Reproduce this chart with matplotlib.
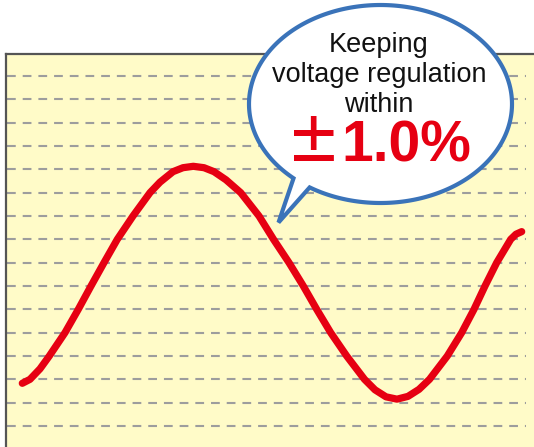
import matplotlib
matplotlib.use("Agg")
import matplotlib.pyplot as plt
import numpy as np
from matplotlib.path import Path
from matplotlib.patches import PathPatch

plt.rcParams['font.family'] = ['Liberation Sans', 'DejaVu Sans']
plt.rcParams['lines.scale_dashes'] = False

W, H = 534, 447

# voltage curve (time step, level on the dashed grid)
time = [16.3, 24, 34, 43.3, 59, 72.3, 85, 98, 111.3, 127, 144, 154, 167,
        177, 187.3, 198, 208, 220, 234.7, 253, 267.5, 283, 297.3, 310.7,
        324.7, 340.7, 358.5, 369, 380, 391, 402, 413, 423.5, 441.3, 455.7,
        468, 479, 490.7, 504.7, 510, 515.7]
level = [1.83, 2.0, 2.45, 3, 4, 5, 6, 7, 8, 9, 10, 10.45, 10.9, 11.07, 11.13,
         11.07, 10.9, 10.55, 10, 9, 8, 7, 6, 5, 4, 3, 2, 1.55, 1.25, 1.15, 1.27,
         1.57, 2, 3, 4, 5, 6, 7, 8, 8.22, 8.33]
grid_levels = list(range(16))

label_lines = ["Keeping", "voltage regulation", "within"]
label_sign = "\u00b1"
label_value = "1.0%"

fig = plt.figure(figsize=(W / 100, H / 100), dpi=100)

# panel
step = (426 - 76) / 15
ax = fig.add_axes([6 / W, 0, (W - 6) / W, (H - 54) / H])
ax.set_facecolor('#fffbc8')
ax.set_xlim(0, W - 6)
ax.set_ylim((426 - H) / step, (426 - 54) / step)
ax.hlines(grid_levels, 1, 520, colors='#9d9d9d', linewidth=1.5,
          linestyles=(0, (6.3, 5.0)))
ax.plot(time, level, color='#e60012', linewidth=5.2,
        solid_capstyle='round', solid_joinstyle='round')
for s in ['right', 'bottom']:
    ax.spines[s].set_visible(False)
for s in ['top', 'left']:
    ax.spines[s].set_color('#555555')
    ax.spines[s].set_linewidth(1.6)
ax.set_xticks([])
ax.set_yticks([])

# speech bubble overlay in pixel space
ov = fig.add_axes([0, 0, 1, 1])
ov.set_xlim(0, W)
ov.set_ylim(H, 0)
ov.axis('off')
ov.patch.set_alpha(0)

cx, cy, a, b = 380.5, 104, 131.5, 99
t0, t1 = np.deg2rad(122.6), np.deg2rad(131.4)
ang = np.linspace(t0, t1 - 2 * np.pi, 300)
pts = np.column_stack([cx + a * np.cos(ang), cy + b * np.sin(ang)])
pts = np.vstack([pts, [[278.5, 222.5]], pts[:1]])
codes = [Path.MOVETO] + [Path.LINETO] * (len(pts) - 2) + [Path.CLOSEPOLY]
ov.add_patch(PathPatch(Path(pts, codes), facecolor='white', edgecolor='#3a73b9',
                       linewidth=3.0, joinstyle='miter'))

for txt, yb in zip(label_lines, [52, 82, 112]):
    ov.text(379, yb, txt, ha='center', va='baseline', fontsize=19.5, color='#111111')
ov.text(314, 162, label_sign, ha='center', va='baseline', fontsize=40,
        fontweight='bold', color='#e60012', family=['Noto Sans CJK JP', 'DejaVu Sans'])
ov.text(341, 162, label_value, ha='left', va='baseline', fontsize=41,
        fontweight='bold', color='#e60012')

fig.savefig('out.png', dpi=100)
